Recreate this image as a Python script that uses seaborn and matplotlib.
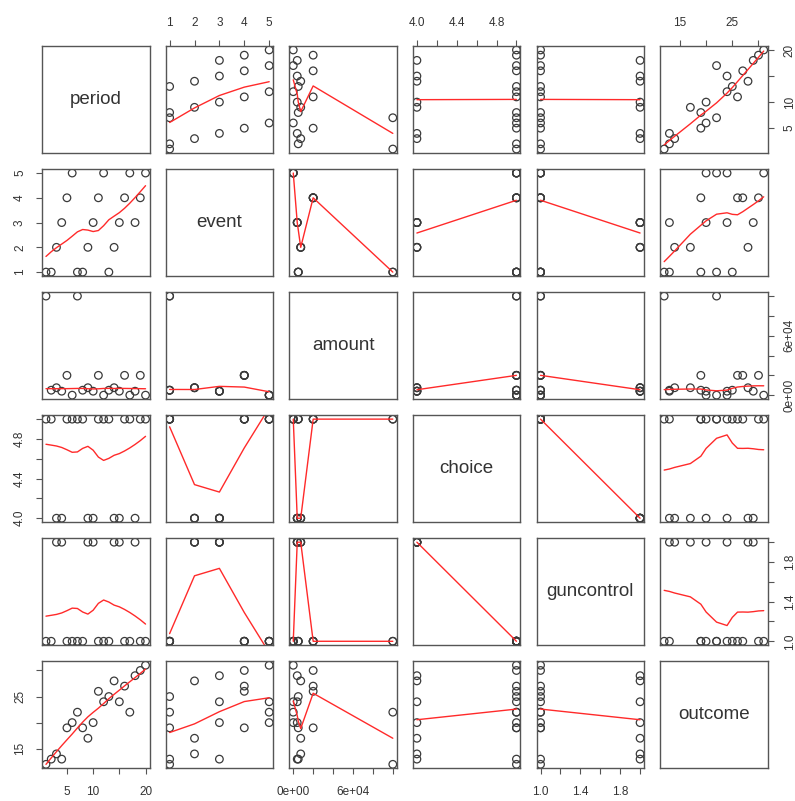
import numpy as np
import pandas as pd
import matplotlib
matplotlib.use("Agg")
import matplotlib.pyplot as plt
import seaborn as sns

# ---- data ----
period = [1, 2, 3, 4, 5, 6, 7, 8, 9, 10, 11, 12, 13, 14, 15, 16, 17, 18, 19, 20]
event = [1, 1, 2, 3, 4, 5, 1, 1, 2, 3, 4, 5, 1, 2, 3, 4, 5, 3, 4, 5]
amount = [100000, 5000, 7500, 4000, 20000, 0, 100000, 5000, 7500, 4000,
          20000, 0, 5000, 7500, 4000, 20000, 0, 4000, 20000, 0]
choice = [5, 5, 4, 4, 5, 5, 5, 5, 4, 4, 5, 5, 5, 4, 4, 5, 5, 4, 5, 5]
guncontrol = [1, 1, 2, 2, 1, 1, 1, 1, 2, 2, 1, 1, 1, 2, 2, 1, 1, 2, 1, 1]
outcome = [12, 13, 14, 13, 19, 20, 22, 19, 17, 20, 26, 24, 25, 28, 24, 27, 22, 29, 30, 31]

var_names = ["period", "event", "amount", "choice", "guncontrol", "outcome"]
tick_values = {
    "period": [5, 10, 15, 20],
    "event": [1, 2, 3, 4, 5],
    "amount": [0, 20000, 40000, 60000, 80000, 100000],
    "choice": [4.0, 4.2, 4.4, 4.6, 4.8, 5.0],
    "guncontrol": [1.0, 1.2, 1.4, 1.6, 1.8, 2.0],
    "outcome": [15, 20, 25, 30],
}
tick_labels = {
    "period": ["5", "10", "", "20"],
    "event": ["1", "2", "3", "4", "5"],
    "amount": ["0e+00", "", "", "6e+04", "", ""],
    "choice": ["4.0", "", "4.4", "", "4.8", ""],
    "guncontrol": ["1.0", "", "1.4", "", "1.8", ""],
    "outcome": ["15", "", "25", ""],
}

df = pd.DataFrame({"period": period, "event": event, "amount": amount,
                   "choice": choice, "guncontrol": guncontrol, "outcome": outcome})


# ---- port of R's clowess (used by panel.smooth) ----
def _lowest(x, y, xs, nleft, nright, userw, rw):
    n = len(x)
    rng = x[-1] - x[0]
    h = max(xs - x[nleft], x[nright] - xs)
    h9, h1 = 0.999 * h, 0.001 * h
    w = np.zeros(n)
    a = 0.0
    j = nleft
    while j < n:
        r = abs(x[j] - xs)
        if r <= h9:
            w[j] = 1.0 if r <= h1 else (1 - (r / h) ** 3) ** 3
            if userw:
                w[j] *= rw[j]
            a += w[j]
        elif x[j] > xs:
            break
        j += 1
    nrt = j - 1
    if a <= 0:
        return 0.0, False
    sl = slice(nleft, nrt + 1)
    w[sl] /= a
    if h > 0:
        a = np.sum(w[sl] * x[sl])
        b = xs - a
        c = np.sum(w[sl] * (x[sl] - a) ** 2)
        if np.sqrt(c) > 0.001 * rng:
            b /= c
            w[sl] *= (b * (x[sl] - a) + 1.0)
    return float(np.sum(w[sl] * y[sl])), True


def r_lowess(x, y, f=2 / 3, nsteps=3):
    x = np.asarray(x, float)
    y = np.asarray(y, float)
    o = np.argsort(x, kind="mergesort")
    x, y = x[o], y[o]
    n = len(x)
    delta = 0.01 * (x[-1] - x[0])
    ns = max(2, min(n, int(f * n + 1e-7)))
    ys = np.zeros(n)
    rw = np.ones(n)
    it = 1
    while it <= nsteps + 1:
        nleft, nright, last, i = 0, ns - 1, -1, 0
        while True:
            if nright < n - 1:
                d1 = x[i] - x[nleft]
                d2 = x[nright + 1] - x[i]
                if d1 > d2:
                    nleft += 1
                    nright += 1
                    continue
            val, ok = _lowest(x, y, x[i], nleft, nright, it > 1, rw)
            ys[i] = val if ok else y[i]
            if last < i - 1:
                denom = x[i] - x[last]
                for j in range(last + 1, i):
                    alpha = (x[j] - x[last]) / denom
                    ys[j] = alpha * ys[i] + (1 - alpha) * ys[last]
            last = i
            cut = x[last] + delta
            i = last + 1
            while i < n:
                if x[i] > cut:
                    break
                if x[i] == x[last]:
                    ys[i] = ys[last]
                    last = i
                i += 1
            i = max(last + 1, i - 1)
            if last >= n - 1:
                break
        res = y - ys
        sc = np.mean(np.abs(res))
        if it > nsteps:
            break
        r = np.abs(res)
        s = np.sort(r)
        m1 = n // 2
        cmad = 3 * (s[m1] + s[m1 - 1]) if n % 2 == 0 else 6 * s[m1]
        if cmad < 1e-7 * sc:
            break
        c9, c1 = 0.999 * cmad, 0.001 * cmad
        rw = np.where(r <= c1, 1.0, np.where(r <= c9, (1 - (r / cmad) ** 2) ** 2, 0.0))
        it += 1
    return x, ys


# ---- styling ----
sns.set_style("white")
plt.rcParams["font.family"] = ["Liberation Sans", "DejaVu Sans"]
BOX = "#555555"
PT = "#3a3a3a"
TXT = "#333333"

fig, axes = plt.subplots(6, 6, figsize=(7.95, 8.01), dpi=100, sharex="col", sharey="row")
fig.subplots_adjust(left=42 / 795, right=767.7 / 795, bottom=1 - 768.3 / 801,
                    top=1 - 46 / 801, wspace=0.15, hspace=0.15)


def padded(v):
    v = np.asarray(v, float)
    r = v.max() - v.min()
    return v.min() - 0.04 * r, v.max() + 0.04 * r


for i, yv in enumerate(var_names):
    for j, xv in enumerate(var_names):
        ax = axes[i, j]
        if i == j:
            ax.text(0.5, 0.5, xv, transform=ax.transAxes, ha="center", va="center",
                    fontsize=13.5, color=TXT)
        else:
            sns.scatterplot(data=df, x=xv, y=yv, ax=ax, marker="o", s=30,
                            facecolor="none", edgecolor=PT, linewidth=0.9, legend=False)
            xs, ys = r_lowess(df[xv].values, df[yv].values)
            sns.lineplot(x=xs, y=ys, ax=ax, sort=False, estimator=None,
                         color="#ff2a2a", linewidth=1.0, legend=False)
        ax.set_xlabel("")
        ax.set_ylabel("")
        for sp in ax.spines.values():
            sp.set_visible(True)
            sp.set_color(BOX)
            sp.set_linewidth(1.0)

for k, v in enumerate(var_names):
    axes[0, k].set_xlim(*padded(df[v]))
    axes[k, 0].set_ylim(*padded(df[v]))
    axes[0, k].set_xticks(tick_values[v], tick_labels[v])
    axes[k, 0].set_yticks(tick_values[v], tick_labels[v])

for i in range(6):
    for j in range(6):
        ax = axes[i, j]
        ax.tick_params(which="both", bottom=False, top=False, left=False, right=False,
                       labelbottom=False, labeltop=False, labelleft=False, labelright=False,
                       length=4.5, width=0.8, color=BOX, labelcolor=TXT, labelsize=8.5)
        if i == 0 and j % 2 == 1:
            ax.tick_params(axis="x", top=True, labeltop=True, pad=8)
        if i == 5 and j % 2 == 0:
            ax.tick_params(axis="x", bottom=True, labelbottom=True, pad=8)
        if j == 0 and i % 2 == 1:
            ax.tick_params(axis="y", left=True, labelleft=True, pad=7, labelrotation=90)
            for lab in ax.get_yticklabels():
                lab.set_va("center")
        if j == 5 and i % 2 == 0:
            ax.tick_params(axis="y", right=True, labelright=True, pad=7, labelrotation=90)
            for lab in ax.get_yticklabels():
                lab.set_va("center")

fig.savefig("out.png", dpi=100, facecolor="white")
